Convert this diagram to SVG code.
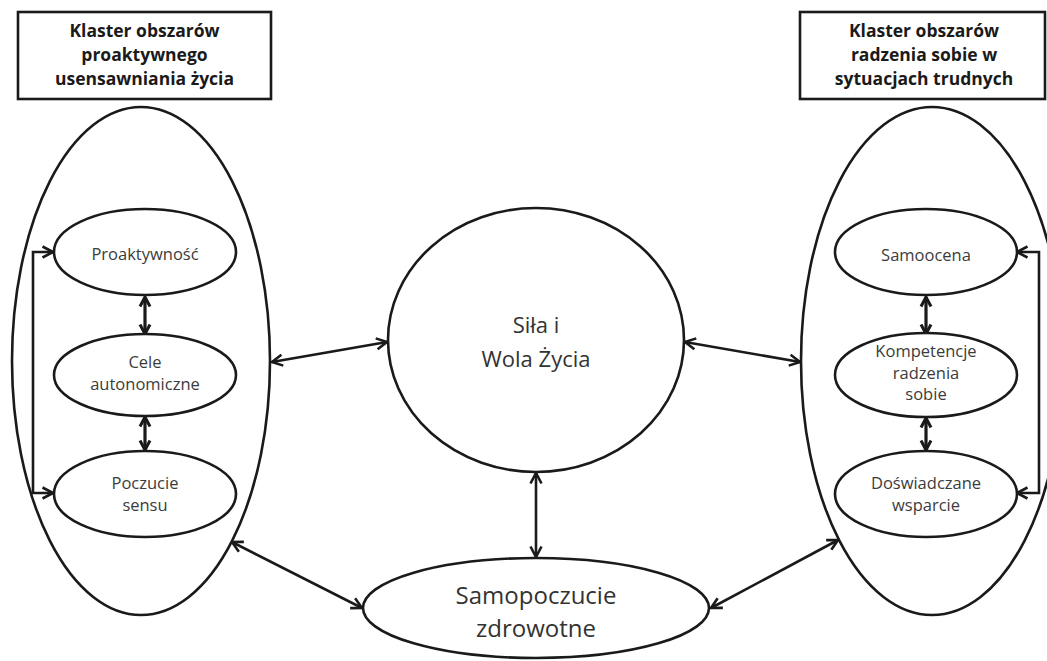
<svg xmlns="http://www.w3.org/2000/svg" width="1047" height="661" viewBox="0 0 1047 661">
<style>
.shape{fill:#fff;stroke:#1a1a1a;stroke-width:2.6}
.box{fill:#fff;stroke:#1a1a1a;stroke-width:2.6}
.title{font-family:"Open Sans","Noto Sans",sans-serif;font-weight:bold;font-size:17.5px;fill:#1a1a1a;text-anchor:middle}
.lbl{font-family:"Open Sans","Noto Sans",sans-serif;font-size:16.5px;fill:#3c3c3c;text-anchor:middle}
.big{font-family:"Open Sans","Noto Sans",sans-serif;fill:#333;text-anchor:middle}
.con{fill:none;stroke:#1a1a1a;stroke-width:2.6;marker-start:url(#arr);marker-end:url(#arr)}
.con2{fill:none;stroke:#1a1a1a;stroke-width:3.2;marker-start:url(#arr2);marker-end:url(#arr2)}
</style>
<defs>
<marker id="arr" viewBox="0 0 14 14" refX="12.5" refY="7" markerWidth="14" markerHeight="14" markerUnits="userSpaceOnUse" orient="auto-start-reverse">
<path d="M2,1.5 L12.5,7 L2,12.5" fill="none" stroke="#1a1a1a" stroke-width="2.6"/>
</marker>
<marker id="arr2" viewBox="0 0 14 14" refX="12.5" refY="7" markerWidth="14" markerHeight="14" markerUnits="userSpaceOnUse" orient="auto-start-reverse">
<path d="M3,2 L12.5,7 L3,12" fill="none" stroke="#1a1a1a" stroke-width="3"/>
</marker>
</defs>
<rect width="1047" height="661" fill="#fff"/>

<g id="title-left">
<rect class="box" x="18" y="12" width="253" height="87"/>
<text class="title" x="144.5" y="37">Klaster obszarów</text>
<text class="title" x="144.5" y="61">proaktywnego</text>
<text class="title" x="144.5" y="85">usensawniania życia</text>
</g>
<g id="title-right">
<rect class="box" x="800" y="12" width="245" height="87"/>
<text class="title" x="924" y="37">Klaster obszarów</text>
<text class="title" x="924" y="61">radzenia sobie w</text>
<text class="title" x="924" y="85">sytuacjach trudnych</text>
</g>

<g id="cluster-left">
<ellipse class="shape" cx="141" cy="361" rx="129" ry="254"/>
</g>
<g id="cluster-right">
<ellipse class="shape" cx="932" cy="361" rx="131" ry="254"/>
</g>

<g id="connectors">
<path class="con" d="M53,252 H33 V493 H53"/>
<path class="con" d="M1017,252 H1039 V493 H1017"/>
<path class="con2" d="M145,297 V334"/>
<path class="con2" d="M145,417 V450"/>
<path class="con2" d="M926,297 V334"/>
<path class="con2" d="M926,418 V450"/>
<path class="con" d="M272,362 L387,342"/>
<path class="con" d="M685,342 L800,362"/>
<path class="con" d="M536,473 V557"/>
<path class="con" d="M232,542 L362,608"/>
<path class="con" d="M711,608 L838,540"/>
</g>

<g id="proaktywnosc">
<ellipse class="shape" cx="145" cy="252" rx="91" ry="43"/>
<text class="lbl" x="145" y="260">Proaktywność</text>
</g>
<g id="cele">
<ellipse class="shape" cx="145" cy="375" rx="91" ry="41"/>
<text class="lbl" x="145" y="368">Cele</text>
<text class="lbl" x="145" y="390">autonomiczne</text>
</g>
<g id="poczucie">
<ellipse class="shape" cx="145" cy="494" rx="91" ry="43"/>
<text class="lbl" x="145" y="489">Poczucie</text>
<text class="lbl" x="145" y="511">sensu</text>
</g>

<g id="samoocena">
<ellipse class="shape" cx="926" cy="252" rx="91" ry="43"/>
<text class="lbl" x="926" y="261">Samoocena</text>
</g>
<g id="kompetencje">
<ellipse class="shape" cx="926" cy="375" rx="91" ry="42"/>
<text class="lbl" x="926" y="357">Kompetencje</text>
<text class="lbl" x="926" y="379">radzenia</text>
<text class="lbl" x="926" y="400">sobie</text>
</g>
<g id="wsparcie">
<ellipse class="shape" cx="926" cy="494" rx="91" ry="43"/>
<text class="lbl" x="926" y="489">Doświadczane</text>
<text class="lbl" x="926" y="511">wsparcie</text>
</g>

<g id="sila">
<ellipse class="shape" cx="536" cy="340" rx="148" ry="132"/>
<text class="big" x="536" y="333" font-size="22">Siła i</text>
<text class="big" x="536" y="367" font-size="22">Wola Życia</text>
</g>
<g id="samopoczucie">
<ellipse class="shape" cx="536" cy="608" rx="173" ry="50"/>
<text class="big" x="536" y="604" font-size="24">Samopoczucie</text>
<text class="big" x="536" y="637" font-size="24">zdrowotne</text>
</g>
</svg>
